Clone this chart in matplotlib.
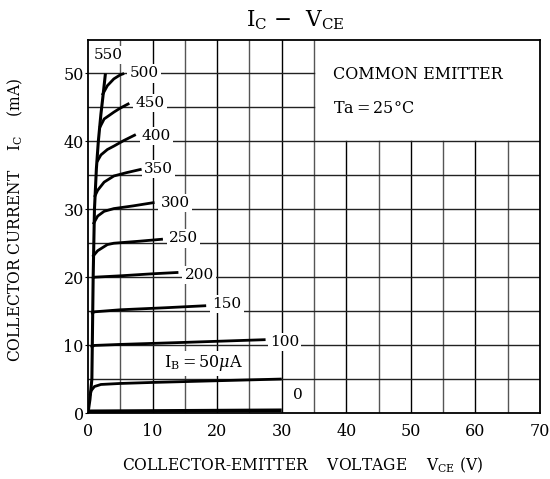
import matplotlib
matplotlib.use("Agg")
import matplotlib.pyplot as plt

plt.rcParams['font.family'] = ['DejaVu Serif']
plt.rcParams['mathtext.fontset'] = 'dejavuserif'

# Ic-Vce output characteristics, common emitter, Ta = 25 C
# each curve: collector-emitter voltage (V) and collector current (mA)
vce_0 = [0, 10, 20, 30]
ic_0 = [0.25, 0.3, 0.35, 0.4]

vce_50 = [0.3, 0.5, 1, 2, 5, 10, 20, 30]
ic_50 = [2.6, 3.3, 3.9, 4.2, 4.35, 4.5, 4.75, 5.0]

vce_100 = [0.4, 1, 5, 15, 27.5]
ic_100 = [9.7, 9.95, 10.1, 10.4, 10.8]

vce_150 = [0.5, 1, 5, 12, 18.3]
ic_150 = [14.6, 14.9, 15.2, 15.5, 15.8]

vce_200 = [0.6, 1, 5, 10, 14]
ic_200 = [19.8, 20.0, 20.2, 20.5, 20.7]

vce_250 = [0.7, 1.5, 3, 4, 8, 11.6]
ic_250 = [23.0, 23.9, 24.8, 25.0, 25.3, 25.6]

vce_300 = [0.8, 1.5, 2.5, 4, 7, 10.3]
ic_300 = [27.8, 29.0, 29.7, 30.1, 30.5, 31.0]

vce_350 = [1.0, 1.5, 2.5, 4, 6, 8.3]
ic_350 = [31.8, 32.8, 34.0, 34.9, 35.4, 35.9]

vce_400 = [1.4, 2, 3, 4, 5.5, 7.4]
ic_400 = [37.0, 38.0, 38.8, 39.3, 40.1, 41.0]

vce_450 = [1.8, 2.5, 4, 5, 6.4]
ic_450 = [42.0, 43.3, 44.3, 44.9, 45.6]

vce_500 = [2.2, 3, 4, 5, 5.6]
ic_500 = [46.8, 48.2, 49.2, 49.8, 50.0]

vce_550 = [0, 0.3, 0.6, 0.8, 1.0, 1.3, 1.6, 2.0, 2.3, 2.7]
ic_550 = [0, 2, 5, 20, 30, 36, 40, 44, 46.5, 50]

curves = [(vce_0, ic_0, 2.6), (vce_50, ic_50, 2.0), (vce_100, ic_100, 2.0),
          (vce_150, ic_150, 2.0), (vce_200, ic_200, 2.0), (vce_250, ic_250, 2.0),
          (vce_300, ic_300, 2.0), (vce_350, ic_350, 2.0), (vce_400, ic_400, 2.0),
          (vce_450, ic_450, 2.0), (vce_500, ic_500, 2.0), (vce_550, ic_550, 2.2)]

# curve labels: text, vce, ic
ib_labels = ["550", "500", "450", "400", "350", "300", "250", "200", "150", "100", "0"]
ib_label_v = [3.2, 8.7, 9.6, 10.6, 10.9, 13.5, 14.8, 17.2, 21.5, 30.4, 32.5]
ib_label_i = [52.7, 50.0, 45.6, 40.8, 35.9, 30.9, 25.7, 20.3, 16.0, 10.5, 2.6]

x_ticks = [0, 10, 20, 30, 40, 50, 60, 70]
y_ticks = [0, 10, 20, 30, 40, 50]

fig = plt.figure(figsize=(5.5, 4.79), dpi=100)
ax = fig.add_axes([88 / 550, 66 / 479, 452 / 550, 373.5 / 479])
ax.set_xlim(0, 70)
ax.set_ylim(0, 55)

# grid every 5, left open in the upper-right note box
for x in range(5, 70, 5):
    top = 40 if x > 35 else 55
    col = 'black' if x % 10 == 0 else '#555555'
    ax.plot([x, x], [0, top], color=col, lw=1.0, zorder=1)
for y in range(5, 55, 5):
    right = 35 if y > 40 else 70
    ax.plot([0, right], [y, y], color='#222222', lw=1.0, zorder=1)

for v, i, w in curves:
    ax.plot(v, i, color='black', lw=w, solid_capstyle='butt', zorder=3)

box = dict(facecolor='white', edgecolor='none', pad=1.5)
for t, v, i in zip(ib_labels, ib_label_v, ib_label_i):
    ax.text(v, i, t, fontsize=11, ha='center', va='center', bbox=box, zorder=4)

ax.text(17.9, 7.3, r'$\mathrm{I_B}$$=$50$\mu$A', fontsize=11.5, ha='center', va='center',
        bbox=box, zorder=4)
ax.text(38.0, 49.9, 'COMMON EMITTER', fontsize=11.5, ha='left', va='center', zorder=4)
ax.text(38.0, 44.8, r'Ta$=$25°C', fontsize=11.5, ha='left', va='center', zorder=4)

ax.set_xticks(x_ticks)
ax.set_yticks(y_ticks)
ax.tick_params(axis='x', length=0, pad=7, labelsize=11.5)
ax.tick_params(axis='y', length=2, pad=1, labelsize=11.5)
for s in ax.spines.values():
    s.set_linewidth(1.3)

fig.text(295 / 550, 1 - 20 / 479, r'$\mathrm{I_C}$ $-$  $\mathrm{V_{CE}}$', fontsize=15.5,
         ha='center', va='center')
fig.text(303 / 550, 1 - 465 / 479, r'COLLECTOR-EMITTER    VOLTAGE    $\mathrm{V_{CE}}$ (V)',
         fontsize=11.2, ha='center', va='center')
fig.text(15 / 550, 1 - 220 / 479, r'COLLECTOR CURRENT    $\mathrm{I_C}$    (mA)',
         fontsize=11.2, ha='center', va='center', rotation=90)

fig.savefig('out.png', dpi=100)
